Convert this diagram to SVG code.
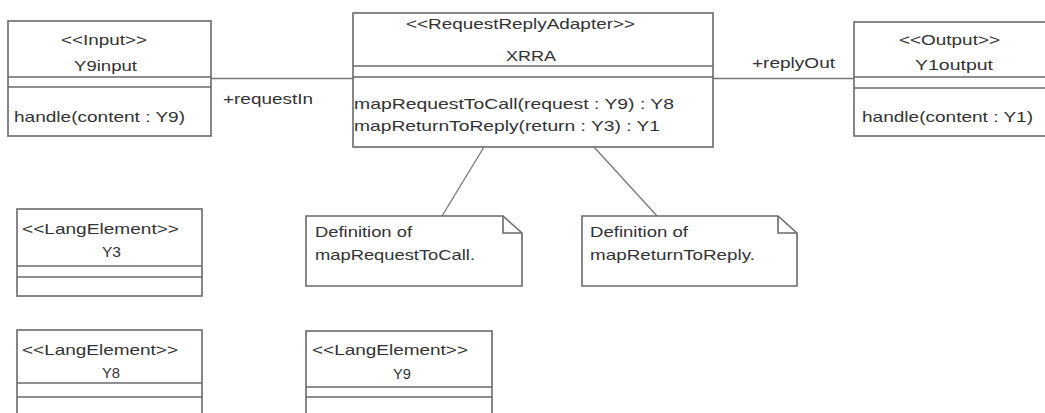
<svg xmlns="http://www.w3.org/2000/svg" width="1045" height="413" viewBox="0 0 1045 413">
  <style>
    .box { fill: #ffffff; stroke: #6a6a6a; stroke-width: 1.6; }
    .sep { stroke: #6a6a6a; stroke-width: 1.6; fill: none; }
    .edge { stroke: #777777; stroke-width: 1.3; fill: none; }
    text { font-family: "Liberation Sans", Arial, sans-serif; font-size: 15px; fill: #333333; }
  </style>
  <rect width="1045" height="413" fill="#ffffff"/>

  <!-- connectors: associations and note anchors -->
  <g id="connectors">
    <line class="edge" x1="211" y1="78.5" x2="353" y2="78.5"/>
    <line class="edge" x1="713" y1="78.5" x2="854" y2="78.5"/>
    <line class="edge" x1="484" y1="147" x2="442" y2="216"/>
    <line class="edge" x1="594" y1="147" x2="657" y2="216"/>
    <text x="223" y="104" textLength="90" lengthAdjust="spacingAndGlyphs">+requestIn</text>
    <text x="752" y="68" textLength="83" lengthAdjust="spacingAndGlyphs">+replyOut</text>
  </g>

  <!-- class Y9input -->
  <g id="Y9input">
    <rect class="box" x="8" y="21" width="203" height="115"/>
    <line class="sep" x1="8" y1="77" x2="211" y2="77"/>
    <line class="sep" x1="8" y1="87" x2="211" y2="87"/>
    <text x="61" y="45" textLength="86" lengthAdjust="spacingAndGlyphs">&lt;&lt;Input&gt;&gt;</text>
    <text x="74" y="71" textLength="63" lengthAdjust="spacingAndGlyphs">Y9input</text>
    <text x="14" y="122" textLength="171" lengthAdjust="spacingAndGlyphs">handle(content : Y9)</text>
  </g>

  <!-- class XRRA -->
  <g id="XRRA">
    <rect class="box" x="353" y="13" width="360" height="134"/>
    <line class="sep" x1="353" y1="66" x2="713" y2="66"/>
    <line class="sep" x1="353" y1="77" x2="713" y2="77"/>
    <text x="406" y="29" textLength="229" lengthAdjust="spacingAndGlyphs">&lt;&lt;RequestReplyAdapter&gt;&gt;</text>
    <text x="506" y="61" textLength="50" lengthAdjust="spacingAndGlyphs">XRRA</text>
    <text x="354" y="109" textLength="320" lengthAdjust="spacingAndGlyphs">mapRequestToCall(request : Y9) : Y8</text>
    <text x="354" y="131" textLength="306" lengthAdjust="spacingAndGlyphs">mapReturnToReply(return : Y3) : Y1</text>
  </g>

  <!-- class Y1output -->
  <g id="Y1output">
    <rect class="box" x="854" y="22" width="210" height="114"/>
    <line class="sep" x1="854" y1="77" x2="1064" y2="77"/>
    <line class="sep" x1="854" y1="88" x2="1064" y2="88"/>
    <text x="899" y="45" textLength="101" lengthAdjust="spacingAndGlyphs">&lt;&lt;Output&gt;&gt;</text>
    <text x="915" y="70" textLength="78" lengthAdjust="spacingAndGlyphs">Y1output</text>
    <text x="862" y="122" textLength="171" lengthAdjust="spacingAndGlyphs">handle(content : Y1)</text>
  </g>

  <!-- note for mapRequestToCall -->
  <g id="note1">
    <path class="box" d="M306,216 H503 L522,233 V286 H306 Z"/>
    <path class="sep" d="M503,216 V233 H522"/>
    <text x="315" y="237" textLength="97" lengthAdjust="spacingAndGlyphs">Definition of</text>
    <text x="315" y="260" textLength="160" lengthAdjust="spacingAndGlyphs">mapRequestToCall.</text>
  </g>

  <!-- note for mapReturnToReply -->
  <g id="note2">
    <path class="box" d="M582,216 H778 L797,233 V286 H582 Z"/>
    <path class="sep" d="M778,216 V233 H797"/>
    <text x="590" y="237" textLength="98" lengthAdjust="spacingAndGlyphs">Definition of</text>
    <text x="590" y="260" textLength="165" lengthAdjust="spacingAndGlyphs">mapReturnToReply.</text>
  </g>

  <!-- class Y3 -->
  <g id="Y3">
    <rect class="box" x="17" y="209" width="185" height="87"/>
    <line class="sep" x1="17" y1="266" x2="202" y2="266"/>
    <line class="sep" x1="17" y1="277" x2="202" y2="277"/>
    <text x="22" y="234" textLength="157" lengthAdjust="spacingAndGlyphs">&lt;&lt;LangElement&gt;&gt;</text>
    <text x="102" y="257" textLength="19" lengthAdjust="spacingAndGlyphs">Y3</text>
  </g>

  <!-- class Y8 -->
  <g id="Y8">
    <rect class="box" x="17" y="330" width="185" height="100"/>
    <line class="sep" x1="17" y1="383" x2="202" y2="383"/>
    <line class="sep" x1="17" y1="397" x2="202" y2="397"/>
    <text x="22" y="355" textLength="156" lengthAdjust="spacingAndGlyphs">&lt;&lt;LangElement&gt;&gt;</text>
    <text x="102" y="378" textLength="18" lengthAdjust="spacingAndGlyphs">Y8</text>
  </g>

  <!-- class Y9 -->
  <g id="Y9">
    <rect class="box" x="306" y="331" width="186" height="100"/>
    <line class="sep" x1="306" y1="387" x2="492" y2="387"/>
    <line class="sep" x1="306" y1="397" x2="492" y2="397"/>
    <text x="312" y="355" textLength="156" lengthAdjust="spacingAndGlyphs">&lt;&lt;LangElement&gt;&gt;</text>
    <text x="393" y="379" textLength="18" lengthAdjust="spacingAndGlyphs">Y9</text>
  </g>
</svg>
